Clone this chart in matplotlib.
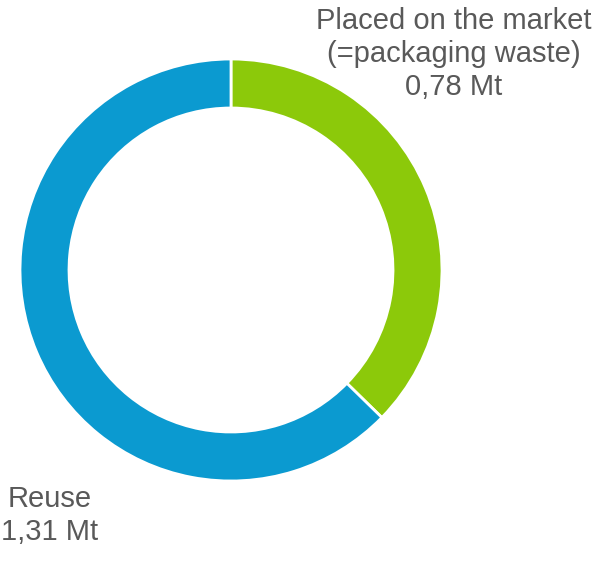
import matplotlib.pyplot as plt

plt.rcParams['font.family'] = ['Liberation Sans', 'DejaVu Sans']

labels = ['Placed on the market\n(=packaging waste)\n0,78 Mt', 'Reuse\n1,31 Mt']
values = [0.78, 1.31]
colors = ['#8cc90a', '#0b9ad0']

W, H = 616, 562
fig = plt.figure(figsize=(W / 100, H / 100), dpi=100)
ax = fig.add_axes([0, 0, 1, 1])
ax.set_xlim(0, W)
ax.set_ylim(0, H)
ax.axis('off')

# ring, green part runs clockwise from 12 o'clock
ax.pie(values, colors=colors, center=(231, H - 270), radius=211,
       startangle=90, counterclock=False,
       wedgeprops=dict(width=49, edgecolor='white', linewidth=2))
ax.set_xlim(0, W)
ax.set_ylim(0, H)

ax.text(454, H - 7, labels[0], ha='center', va='top', fontsize=21,
        color='#595959', linespacing=1.22)
ax.text(50, H - 485, labels[1], ha='center', va='top', fontsize=21,
        color='#595959', linespacing=1.22)

fig.savefig('out.png', dpi=100)
